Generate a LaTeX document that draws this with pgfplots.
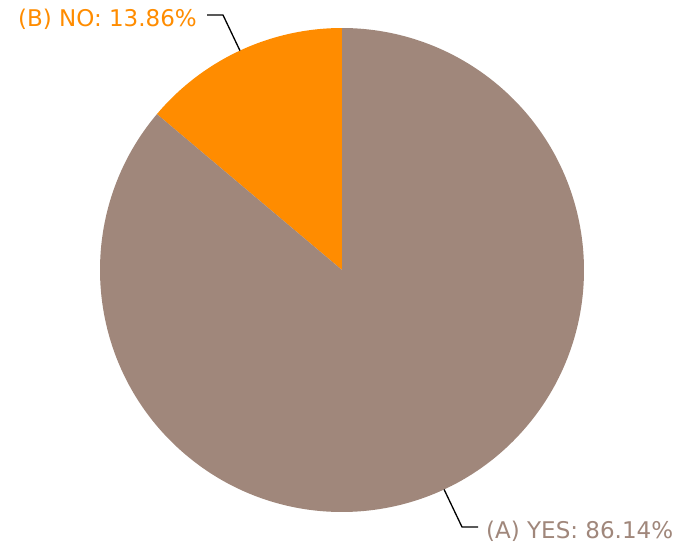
\documentclass[border=0pt]{standalone}
\usepackage{pgfplots}
\pgfplotsset{compat=1.18}
\usepackage{pgfplotstable}
\usetikzlibrary{calc}
\usepackage{fontspec}
\setmainfont{DejaVu Sans}

\definecolor{yescol}{HTML}{A0877B}
\definecolor{nocol}{HTML}{FF8C00}

% share of each answer, in percent
\pgfplotstableread{
answer share
YES 86.14
NO 13.86
}\shares

\pgfplotstablegetelem{0}{share}\of\shares \let\yes\pgfplotsretval
\pgfplotstablegetelem{1}{share}\of\shares \let\no\pgfplotsretval

\begin{document}
\begin{tikzpicture}
\begin{axis}[
  width=682pt, height=554pt, scale only axis,
  xmin=0, xmax=682, ymin=0, ymax=554, y dir=reverse,
  hide axis, clip=false,
]
% keep the whole canvas in the bounding box
\path (axis cs:0,0) rectangle (axis cs:682,554);
% NO runs counter-clockwise from 12 o'clock, YES takes the rest
\pgfmathsetmacro{\split}{90+3.6*\no}
\pgfmathsetmacro{\midno}{90+1.8*\no}
\pgfmathsetmacro{\midyes}{\split+1.8*\yes}
\fill[nocol] (axis cs:342,270) -- +(90:242pt) arc[start angle=90, end angle=\split, radius=242pt] -- cycle;
\fill[yescol] (axis cs:342,270) -- +(\split:242pt) arc[start angle=\split, end angle=450, radius=242pt] -- cycle;
% leader lines
\draw[black, line width=1.3pt] ($(axis cs:342,270)+(\midno:242pt)$) -- (axis cs:223,15) -- (axis cs:207,15);
\draw[black, line width=1.3pt] ($(axis cs:342,270)+(\midyes:242pt)$) -- (axis cs:462,527) -- (axis cs:478,527);
\node[anchor=base east, inner sep=0, text=nocol, font=\fontsize{23}{27}\selectfont] at (axis cs:197,26.5) {(B) NO: 13.86\%};
\node[anchor=base west, inner sep=0, text=yescol, font=\fontsize{23}{27}\selectfont] at (axis cs:486,538) {(A) YES: 86.14\%};
\end{axis}
\end{tikzpicture}
\end{document}
